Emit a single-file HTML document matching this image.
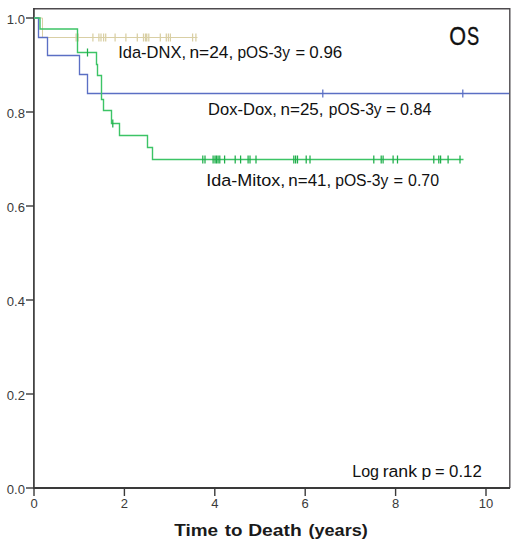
<!DOCTYPE html>
<html><head><meta charset="utf-8"><style>
html,body{margin:0;padding:0;background:#fff;}
body{width:520px;height:544px;overflow:hidden;}
svg{display:block;}
text{font-family:"Liberation Sans",sans-serif;}
.tk{font-size:13px;fill:#3a3a3a;}
.lb{fill:#111;}
.os{fill:#111;stroke:#111;stroke-width:0.35px;}
.tt{fill:#1a1a1a;font-weight:bold;}
</style></head><body>
<svg width="520" height="544" viewBox="0 0 520 544">
<rect width="520" height="544" fill="#fff"/>
<path d="M34 8.8 H509.8 V488" stroke="#4e4a4e" stroke-width="1.4" fill="none"/>
<path d="M33.9 8 V489" stroke="#3a3a3a" stroke-width="1.7" fill="none"/>
<path d="M33 488 H510" stroke="#3a3a3a" stroke-width="1.8" fill="none"/>
<path d="M26 18 H34" stroke="#3a3a3a" stroke-width="1.4"/>
<text x="6.8" y="24.0" class="tk" textLength="18.2" lengthAdjust="spacingAndGlyphs">1.0</text>
<path d="M26 112 H34" stroke="#3a3a3a" stroke-width="1.4"/>
<text x="6.8" y="118.0" class="tk" textLength="18.2" lengthAdjust="spacingAndGlyphs">0.8</text>
<path d="M26 206 H34" stroke="#3a3a3a" stroke-width="1.4"/>
<text x="6.8" y="212.0" class="tk" textLength="18.2" lengthAdjust="spacingAndGlyphs">0.6</text>
<path d="M26 300 H34" stroke="#3a3a3a" stroke-width="1.4"/>
<text x="6.8" y="306.0" class="tk" textLength="18.2" lengthAdjust="spacingAndGlyphs">0.4</text>
<path d="M26 394 H34" stroke="#3a3a3a" stroke-width="1.4"/>
<text x="6.8" y="400.0" class="tk" textLength="18.2" lengthAdjust="spacingAndGlyphs">0.2</text>
<path d="M26 488 H34" stroke="#3a3a3a" stroke-width="1.4"/>
<text x="6.8" y="494.0" class="tk" textLength="18.2" lengthAdjust="spacingAndGlyphs">0.0</text>
<path d="M34 488 V496" stroke="#3a3a3a" stroke-width="1.4"/>
<text x="34" y="508.3" text-anchor="middle" class="tk">0</text>
<path d="M124.4 488 V496" stroke="#3a3a3a" stroke-width="1.4"/>
<text x="124.4" y="508.3" text-anchor="middle" class="tk">2</text>
<path d="M214.8 488 V496" stroke="#3a3a3a" stroke-width="1.4"/>
<text x="214.8" y="508.3" text-anchor="middle" class="tk">4</text>
<path d="M305.2 488 V496" stroke="#3a3a3a" stroke-width="1.4"/>
<text x="305.2" y="508.3" text-anchor="middle" class="tk">6</text>
<path d="M395.6 488 V496" stroke="#3a3a3a" stroke-width="1.4"/>
<text x="395.6" y="508.3" text-anchor="middle" class="tk">8</text>
<path d="M486 488 V496" stroke="#3a3a3a" stroke-width="1.4"/>
<text x="486" y="508.3" text-anchor="middle" class="tk">10</text>
<path d="M34 18 H42.5 V37.5 H197.5" stroke="#d9cfa4" stroke-width="1.0" fill="none"/>
<path d="M76.1 33.5 V41.5 M78.1 33.5 V41.5 M92.9 33.5 V41.5 M98.9 33.5 V41.5 M101.0 33.5 V41.5 M103.6 33.5 V41.5 M105.7 33.5 V41.5 M115.1 33.5 V41.5 M125.9 33.5 V41.5 M137.3 33.5 V41.5 M143.5 33.5 V41.5 M145.5 33.5 V41.5 M146.8 33.5 V41.5 M148.8 33.5 V41.5 M160.3 33.5 V41.5 M166.3 33.5 V41.5 M168.4 33.5 V41.5 M170.4 33.5 V41.5 M192.6 33.5 V41.5 M195.9 33.5 V41.5" stroke="#d9cfa4" stroke-width="1.25" fill="none"/>
<path d="M34 18 H38.5 V37.5 H47.5 V55.5 H79.5 V74.5 H87.5 V93.5 H509" stroke="#5b6fc4" stroke-width="1.35" fill="none"/>
<path d="M322.8 89.5 V97.5 M462.8 89.5 V97.5" stroke="#5b6fc4" stroke-width="1.25" fill="none"/>
<path d="M34 18 H40 V29 H77.5 V52.5 H96.5 V64.5 H97.5 V75.5 H101.5 V99.5 H103.5 V110.5 H111.5 V123.5 H119.5 V135.5 H147.5 V147.5 H152.5 V159.5 H463.5" stroke="#3cc466" stroke-width="1.4" fill="none"/>
<path d="M87.5 48.5 V56.5 M112.8 119.5 V127.5 M202.8 155.5 V163.5 M205.0 155.5 V163.5 M213.1 155.5 V163.5 M215.0 155.5 V163.5 M216.5 155.5 V163.5 M218.1 155.5 V163.5 M219.8 155.5 V163.5 M224.6 155.5 V163.5 M235.2 155.5 V163.5 M240.6 155.5 V163.5 M248.1 155.5 V163.5 M250.0 155.5 V163.5 M256.0 155.5 V163.5 M293.8 155.5 V163.5 M295.6 155.5 V163.5 M297.5 155.5 V163.5 M306.2 155.5 V163.5 M310.0 155.5 V163.5 M373.8 155.5 V163.5 M381.2 155.5 V163.5 M383.1 155.5 V163.5 M393.1 155.5 V163.5 M397.5 155.5 V163.5 M433.8 155.5 V163.5 M438.8 155.5 V163.5 M440.6 155.5 V163.5 M448.1 155.5 V163.5 M460.0 155.5 V163.5" stroke="#1eae4a" stroke-width="1.25" fill="none"/>
<text x="118.18" y="58" class="lb" style="font-size:16.3px" textLength="67.86" lengthAdjust="spacingAndGlyphs">Ida-DNX,</text>
<text x="189.44" y="58" class="lb" style="font-size:16.3px" textLength="43.87" lengthAdjust="spacingAndGlyphs">n=24,</text>
<text x="237.39" y="58" class="lb" style="font-size:16.3px" textLength="52.56" lengthAdjust="spacingAndGlyphs">pOS-3y</text>
<text x="295.41" y="58" class="lb" style="font-size:16.3px" textLength="9.66" lengthAdjust="spacingAndGlyphs">=</text>
<text x="309.29" y="58" class="lb" style="font-size:16.3px" textLength="33.00" lengthAdjust="spacingAndGlyphs">0.96</text>
<text x="208.12" y="115" class="lb" style="font-size:16.3px" textLength="68.82" lengthAdjust="spacingAndGlyphs">Dox-Dox,</text>
<text x="280.55" y="115" class="lb" style="font-size:16.3px" textLength="43.00" lengthAdjust="spacingAndGlyphs">n=25,</text>
<text x="328.86" y="115" class="lb" style="font-size:16.3px" textLength="52.71" lengthAdjust="spacingAndGlyphs">pOS-3y</text>
<text x="385.95" y="115" class="lb" style="font-size:16.3px" textLength="9.91" lengthAdjust="spacingAndGlyphs">=</text>
<text x="400.06" y="115" class="lb" style="font-size:16.3px" textLength="31.48" lengthAdjust="spacingAndGlyphs">0.84</text>
<text x="206.22" y="186" class="lb" style="font-size:16.3px" textLength="79.15" lengthAdjust="spacingAndGlyphs">Ida-Mitox,</text>
<text x="288.39" y="186" class="lb" style="font-size:16.3px" textLength="42.84" lengthAdjust="spacingAndGlyphs">n=41,</text>
<text x="335.18" y="186" class="lb" style="font-size:16.3px" textLength="53.20" lengthAdjust="spacingAndGlyphs">pOS-3y</text>
<text x="393.54" y="186" class="lb" style="font-size:16.3px" textLength="9.60" lengthAdjust="spacingAndGlyphs">=</text>
<text x="408.10" y="186" class="lb" style="font-size:16.3px" textLength="31.00" lengthAdjust="spacingAndGlyphs">0.70</text>
<text x="352.25" y="476.7" class="lb" style="font-size:16.3px" textLength="26.80" lengthAdjust="spacingAndGlyphs">Log</text>
<text x="382.67" y="476.7" class="lb" style="font-size:16.3px" textLength="34.37" lengthAdjust="spacingAndGlyphs">rank</text>
<text x="421.46" y="476.7" class="lb" style="font-size:16.3px" textLength="9.72" lengthAdjust="spacingAndGlyphs">p</text>
<text x="435.11" y="476.7" class="lb" style="font-size:16.3px" textLength="9.61" lengthAdjust="spacingAndGlyphs">=</text>
<text x="449.07" y="476.7" class="lb" style="font-size:16.3px" textLength="32.76" lengthAdjust="spacingAndGlyphs">0.12</text>
<text x="449.34" y="44.6" class="os" style="font-size:25px" textLength="16.78" lengthAdjust="spacingAndGlyphs">O</text>
<text x="467.05" y="44.6" class="os" style="font-size:25px" textLength="12.15" lengthAdjust="spacingAndGlyphs">S</text>
<text x="174.32" y="536" class="tt" style="font-size:17.2px" textLength="43.82" lengthAdjust="spacingAndGlyphs">Time</text>
<text x="224.84" y="536" class="tt" style="font-size:17.2px" textLength="17.73" lengthAdjust="spacingAndGlyphs">to</text>
<text x="248.16" y="536" class="tt" style="font-size:17.2px" textLength="53.55" lengthAdjust="spacingAndGlyphs">Death</text>
<text x="308.47" y="536" class="tt" style="font-size:17.2px" textLength="59.32" lengthAdjust="spacingAndGlyphs">(years)</text>
</svg>
</body></html>
